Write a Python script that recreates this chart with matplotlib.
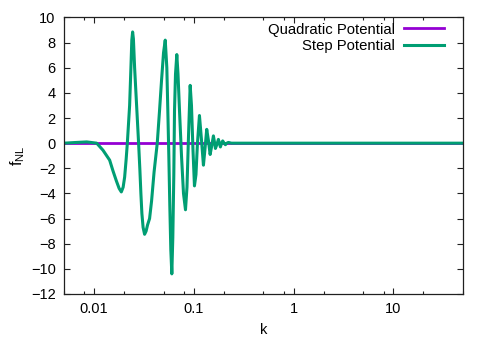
import matplotlib
matplotlib.use("Agg")
import matplotlib.pyplot as plt
import numpy as np

plt.rcParams['font.family'] = ['Liberation Sans', 'DejaVu Sans']
plt.rcParams['mathtext.fontset'] = 'custom'
plt.rcParams['mathtext.rm'] = 'Liberation Sans'

# quadratic potential: f_NL stays at zero
k_quad = [0.005, 50.0]
fnl_quad = [0.0, 0.0]

# step potential
k_step = [0.005, 0.00641, 0.00845, 0.01064, 0.0123, 0.01435, 0.01549,
          0.01675, 0.01786, 0.01879, 0.01959, 0.02028, 0.02099, 0.02158,
          0.02275, 0.02344, 0.02393, 0.02438, 0.02483, 0.02553, 0.02673,
          0.02799, 0.02884, 0.02951, 0.0302, 0.03105, 0.03214, 0.03327,
          0.03443, 0.03606, 0.03776, 0.04, 0.04305, 0.04539, 0.04753,
          0.04977, 0.05176, 0.0537, 0.05495, 0.05623, 0.05754, 0.05888,
          0.06026, 0.06166, 0.0631, 0.06412, 0.06561, 0.06761, 0.0695,
          0.07194, 0.07534, 0.07889, 0.0826, 0.08551, 0.08851, 0.09204,
          0.09484, 0.09817, 0.1016, 0.1052, 0.1089, 0.114, 0.1194, 0.125,
          0.1294, 0.1349, 0.1403, 0.1459, 0.1514, 0.1574, 0.1611, 0.1648,
          0.1706, 0.1766, 0.1807, 0.1849, 0.1892, 0.195, 0.2014, 0.2075,
          0.2148, 0.2223, 0.2382, 50.0]
fnl_step = [0.0, 0.05, 0.1, 0.0, -0.56, -1.35, -2.2,
            -3.0, -3.6, -3.88, -3.5, -2.7, -1.3, 0.0,
            3.0, 6.0, 8.2, 8.85, 8.3, 6.0, 3.0,
            0.0, -2.15, -4.0, -5.6, -6.7, -7.25, -7.0,
            -6.5, -6.0, -4.6, -2.3, 0.0, 2.6, 5.0,
            7.2, 8.2, 6.0, 2.6, -1.0, -5.0, -8.5,
            -10.4, -7.5, -2.5, 2.6, 5.5, 7.05, 5.5,
            2.6, -1.0, -4.0, -5.3, -3.5, 0.5, 4.6,
            3.0, -0.5, -3.4, -2.5, 0.0, 2.2, 0.3, -1.75,
            -0.5, 1.1, 0.2, -0.9, -0.2, 0.58, 0.1, -0.42,
            -0.1, 0.3, 0.0, -0.3, -0.05, 0.18, 0.0, -0.12,
            0.0, 0.06, 0.0, 0.0]

ks = [0.01, 0.1, 1, 10]
k_labels = ["0.01", "0.1", "1", "10"]
fnl_ticks = list(range(-12, 11, 2))

fig = plt.figure(figsize=(4.91, 3.43), dpi=100)
ax = fig.add_axes([0.1303, 0.1429, 0.8127, 0.8061])

ax.plot(k_quad, fnl_quad, color="#9400d3", lw=2.0, label="Quadratic Potential")
ax.plot(k_step, fnl_step, color="#009e73", lw=2.2, label="Step Potential")

ax.set_xscale("log")
ax.set_xlim(0.005, 50)
ax.set_ylim(-12, 10)
ax.set_xticks(ks)
ax.set_xticklabels(k_labels)
ax.xaxis.set_minor_locator(matplotlib.ticker.LogLocator(base=10, subs=[2, 5, 8]))
ax.xaxis.set_minor_formatter(matplotlib.ticker.NullFormatter())
ax.set_yticks(fnl_ticks)
ax.tick_params(which="both", direction="in", top=True, right=True,
               labelsize=10.5, colors="#202020", labelcolor="black", width=0.8)
ax.tick_params(which="major", length=4, pad=6)
ax.tick_params(which="minor", length=2)
for s in ax.spines.values():
    s.set_linewidth(0.9)
    s.set_color("#202020")

ax.set_xlabel("k", fontsize=10.5, labelpad=5)
ax.set_ylabel(r"$\mathrm{f}_{\mathrm{NL}}$", fontsize=11.5, labelpad=3)

ax.legend(loc="upper right", bbox_to_anchor=(0.985, 1.03), frameon=False,
          markerfirst=False, fontsize=10.7, handlelength=2.7,
          handletextpad=0.6, labelspacing=0.15)

fig.savefig("out.png", dpi=100)
